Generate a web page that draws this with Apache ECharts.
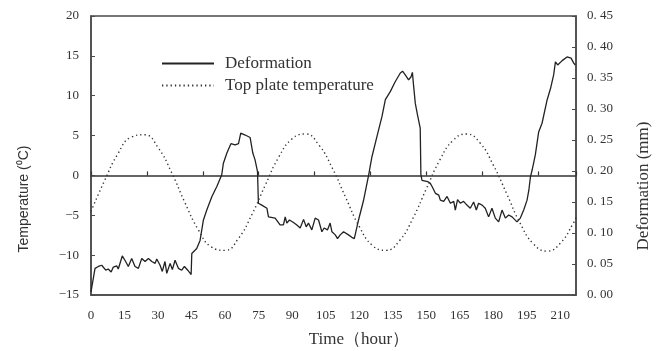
<!DOCTYPE html>
<html><head><meta charset="utf-8">
<script src="https://cdn.jsdelivr.net/npm/echarts@6/dist/echarts.min.js"></script>
<style>html,body{margin:0;padding:0;background:#fff}#c{width:661px;height:351px}</style>
</head><body><div id="c"></div>
<script>
// ---- data ----
const seriesNames = ['Deformation', 'Top plate temperature'];

// Top plate temperature (°C) vs time (hour)
const tempHours  = [0, 6, 12, 18, 24, 30, 36, 42, 48, 54, 60, 66, 72, 78, 84, 90, 96, 102, 108, 114, 120, 126, 132, 138, 144, 150, 156, 162, 168, 174, 180, 186, 192, 198, 204, 210, 216, 217];
const tempValues = [-4.5, -0.7, 2.7, 4.8, 5.1, 3.5, 0.4, -3.4, -6.8, -9.0, -9.4, -7.9, -4.9, -1.2, 2.3, 4.6, 5.2, 3.8, 0.9, -2.8, -6.4, -8.8, -9.4, -8.2, -5.4, -1.7, 1.9, 4.4, 5.2, 4.1, 1.3, -2.3, -6.0, -8.6, -9.5, -8.5, -5.9, -5.3];

// Deformation (mm) vs time (hour)
const defHours = [0, 1.8, 3.3, 4.8, 5.5, 6.6, 7.7, 9.0, 10.0, 11.5, 12.2, 14.0, 15.5, 16.7, 18.2, 19.7, 21.2, 22.7, 24.2, 25.7, 27.2, 28.7, 29.4, 30.9, 31.9, 33.1, 33.9, 35.4, 36.4, 37.6, 39.1, 40.6, 41.8, 43.3, 44.8, 45.1, 47.3, 48.8, 50.3, 51.8, 54.1, 56.3, 58.5, 59.2, 60.8, 62.6, 64.5, 66.0, 67.0, 69.0, 71.2, 72.4, 73.4, 74.5, 74.9, 76.4, 78.7, 79.4, 82.4, 84.6, 86.1, 86.9, 87.6, 88.8, 90.6, 92.1, 93.6, 95.1, 96.3, 97.3, 98.8, 100.3, 101.8, 103.3, 104.3, 105.8, 107.0, 107.8, 109.3, 110.3, 111.5, 113.0, 115.2, 116.7, 117.8, 119.0, 119.7, 121.9, 124.2, 125.7, 127.9, 130.2, 131.7, 133.9, 136.1, 138.4, 139.4, 140.6, 142.1, 143.2, 143.8, 144.3, 145.1, 146.1, 147.3, 147.6, 148.1, 150.6, 151.8, 152.6, 154.1, 155.6, 156.3, 157.8, 159.3, 160.8, 162.3, 163.0, 164.0, 165.2, 166.7, 168.2, 169.7, 171.2, 172.4, 173.4, 175.0, 176.4, 177.9, 179.4, 180.9, 182.4, 183.9, 185.4, 186.9, 188.4, 190.6, 192.1, 193.6, 195.1, 195.9, 196.6, 197.4, 198.8, 200.3, 201.8, 204.1, 205.6, 207.0, 207.8, 208.8, 210.8, 213.0, 214.8, 216.0, 216.7];
const defValues = [0.005, 0.043, 0.046, 0.048, 0.045, 0.040, 0.042, 0.037, 0.045, 0.047, 0.042, 0.063, 0.054, 0.046, 0.059, 0.046, 0.043, 0.059, 0.054, 0.059, 0.054, 0.051, 0.058, 0.048, 0.038, 0.054, 0.035, 0.051, 0.041, 0.056, 0.043, 0.040, 0.046, 0.040, 0.033, 0.067, 0.075, 0.088, 0.121, 0.137, 0.159, 0.175, 0.194, 0.212, 0.229, 0.244, 0.242, 0.244, 0.261, 0.258, 0.254, 0.229, 0.218, 0.199, 0.148, 0.145, 0.140, 0.126, 0.124, 0.113, 0.113, 0.126, 0.116, 0.121, 0.117, 0.113, 0.108, 0.122, 0.110, 0.116, 0.105, 0.124, 0.121, 0.102, 0.108, 0.105, 0.116, 0.102, 0.097, 0.091, 0.097, 0.102, 0.097, 0.093, 0.091, 0.110, 0.121, 0.152, 0.193, 0.223, 0.255, 0.288, 0.315, 0.328, 0.344, 0.358, 0.361, 0.355, 0.347, 0.352, 0.359, 0.339, 0.309, 0.290, 0.269, 0.194, 0.185, 0.183, 0.180, 0.175, 0.164, 0.161, 0.153, 0.151, 0.159, 0.148, 0.151, 0.137, 0.154, 0.148, 0.151, 0.145, 0.140, 0.150, 0.137, 0.148, 0.145, 0.140, 0.126, 0.140, 0.124, 0.118, 0.137, 0.124, 0.129, 0.126, 0.118, 0.124, 0.137, 0.153, 0.169, 0.190, 0.202, 0.226, 0.263, 0.277, 0.315, 0.333, 0.355, 0.376, 0.371, 0.378, 0.384, 0.382, 0.374, 0.371];

// tick labels
const xTickLabels = [0, 15, 30, 45, 60, 75, 90, 105, 120, 135, 150, 165, 180, 195, 210];
const tempTickLabels = [-15, -10, -5, 0, 5, 10, 15, 20];
const defTickLabels = ['0. 00', '0. 05', '0. 10', '0. 15', '0. 20', '0. 25', '0. 30', '0. 35', '0. 40', '0. 45'];

const axisTitles = { x: 'Time（hour）', left: 'Temperature (\u2070C)', right: 'Deformation (mm)' };

// ---- chart ----
const tempData = tempHours.map((h, i) => [h, tempValues[i]]);
const defData = defHours.map((h, i) => [h, defValues[i]]);

const serif = '"Liberation Serif", "DejaVu Serif", serif';
const axisColor = '#4a4a4a';
const textColor = '#333';

const chart = echarts.init(document.getElementById('c'), null, { renderer: 'canvas' });
chart.setOption({
  animation: false,
  backgroundColor: '#fff',
  grid: { left: 91, right: 85, top: 16, bottom: 56, show: true, borderColor: axisColor, borderWidth: 1.5, backgroundColor: 'transparent' },
  legend: {
    data: seriesNames,
    orient: 'vertical',
    left: 156, top: 50,
    itemStyle: { opacity: 0 },
    itemWidth: 52, itemHeight: 14, itemGap: 5,
    textStyle: { fontFamily: serif, fontSize: 17, color: textColor, padding: [0, 0, 0, 6] }
  },
  xAxis: [
    {
      type: 'value', min: 0, max: 217, interval: 15, position: 'bottom',
      axisLine: { onZero: false, lineStyle: { color: axisColor, width: 1.5 } },
      axisTick: { show: false },
      splitLine: { show: false },
      axisLabel: {
        showMaxLabel: false, margin: 14, fontFamily: serif, fontSize: 13, color: textColor,
        formatter: v => xTickLabels.indexOf(v) >= 0 ? String(v) : ''
      }
    },
    {
      type: 'value', min: 0, max: 217, interval: 25, position: 'top',
      axisLine: { onZero: true, onZeroAxisIndex: 0, lineStyle: { color: '#333', width: 1.5 } },
      axisTick: { show: true, inside: false, length: 4, lineStyle: { color: '#333', width: 1.2 } },
      axisLabel: { show: false },
      splitLine: { show: false }
    }
  ],
  yAxis: [
    {
      type: 'value', min: -15, max: 20, interval: 5, position: 'left',
      axisLine: { show: true, onZero: false, lineStyle: { color: axisColor, width: 1.5 } },
      axisTick: { show: true, inside: true, length: 4, lineStyle: { color: axisColor } },
      splitLine: { show: false },
      axisLabel: {
        margin: 12, fontFamily: serif, fontSize: 13, color: textColor,
        formatter: v => { const t = tempTickLabels.find(x => x === v); return t === undefined ? '' : (t < 0 ? '\u2212' + (-t) : String(t)); }
      }
    },
    {
      type: 'value', min: 0, max: 0.45, interval: 0.05, position: 'right',
      axisLine: { show: true, onZero: false, lineStyle: { color: axisColor, width: 1.5 } },
      axisTick: { show: true, inside: true, length: 4, lineStyle: { color: axisColor } },
      splitLine: { show: false },
      axisLabel: {
        margin: 11, fontFamily: serif, fontSize: 13, color: textColor,
        formatter: v => defTickLabels[Math.round(v / 0.05)] || ''
      }
    }
  ],
  series: [
    {
      name: seriesNames[0], type: 'line', xAxisIndex: 0, yAxisIndex: 1,
      data: defData, symbol: 'none', showSymbol: false,
      lineStyle: { color: '#222', width: 1.3 }, itemStyle: { color: '#222' }
    },
    {
      name: seriesNames[1], type: 'line', xAxisIndex: 0, yAxisIndex: 0,
      data: tempData, smooth: true, symbol: 'none', showSymbol: false,
      lineStyle: { color: '#333', width: 1.4, type: [1.3, 3] }, itemStyle: { color: '#333' }
    }
  ],
  graphic: [
    { type: 'text', x: 24, y: 199, rotation: Math.PI / 2,
      style: { text: axisTitles.left, fontFamily: '"Liberation Sans", Arial, sans-serif', fontSize: 14, fill: textColor, align: 'center', verticalAlign: 'middle' } },
    { type: 'text', x: 644, y: 186, rotation: Math.PI / 2,
      style: { text: axisTitles.right, fontFamily: serif, fontSize: 17, fill: textColor, align: 'center', verticalAlign: 'middle' } },
    { type: 'text', x: 359, y: 340,
      style: { text: axisTitles.x, fontFamily: serif, fontSize: 17, fill: textColor, align: 'center', verticalAlign: 'middle' } }
  ]
});
</script>
</body></html>
